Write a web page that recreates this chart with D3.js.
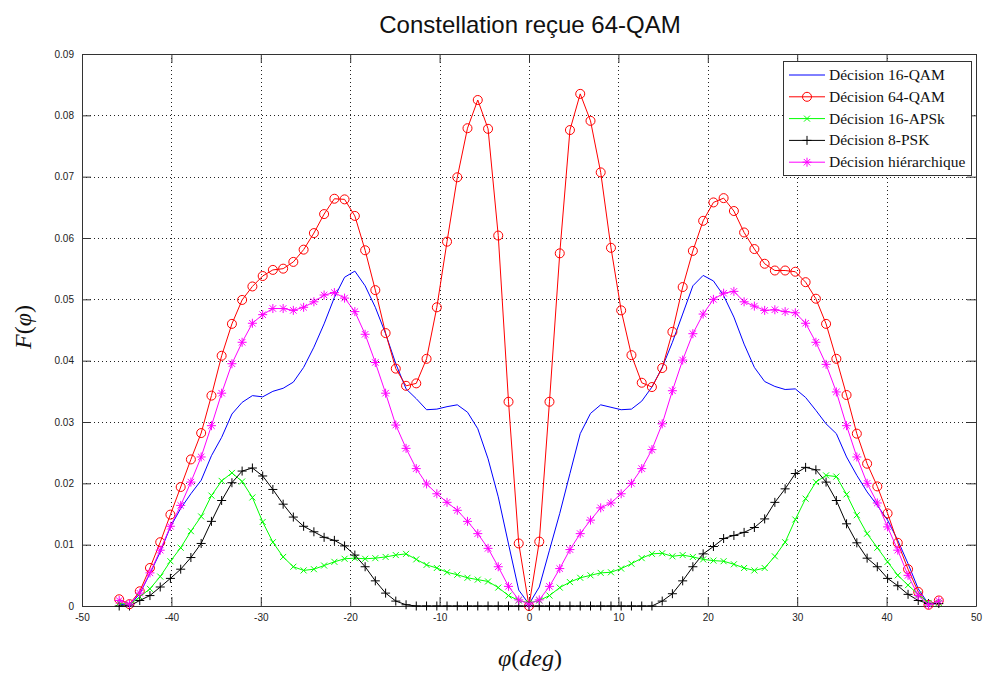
<!DOCTYPE html>
<html><head><meta charset="utf-8">
<script src="https://cdn.jsdelivr.net/npm/d3@7"></script>
<style>body{margin:0;background:#fff;} svg{display:block}</style>
</head><body><svg id="chart" width="984" height="674"></svg>
<script>
// sample angles (degrees)
const angles = [-45.84,-44.69,-43.54,-42.40,-41.25,-40.11,-38.96,-37.82,-36.67,-35.52,
 -34.38,-33.23,-32.09,-30.94,-29.79,-28.65,-27.50,-26.36,-25.21,-24.06,
 -22.92,-21.77,-20.63,-19.48,-18.33,-17.19,-16.04,-14.90,-13.75,-12.61,
 -11.46,-10.31,-9.17,-8.02,-6.88,-5.73,-4.58,-3.44,-2.29,-1.15,
 0,
 1.15,2.29,3.44,4.58,5.73,6.88,8.02,9.17,10.31,11.46,
 12.61,13.75,14.90,16.04,17.19,18.33,19.48,20.63,21.77,22.92,
 24.06,25.21,26.36,27.50,28.65,29.79,30.94,32.09,33.23,34.38,
 35.52,36.67,37.82,38.96,40.11,41.25,42.40,43.54,44.69,45.84];

const qam16 = [0.0003,0.0001,0.0020,0.0053,0.0088,0.0129,0.0159,0.0183,0.0205,0.0245,
 0.0275,0.0313,0.0332,0.0343,0.0341,0.0350,0.0355,0.0365,0.0389,0.0422,
 0.0460,0.0503,0.0536,0.0546,0.0522,0.0487,0.0444,0.0395,0.0354,0.0338,
 0.0320,0.0321,0.0325,0.0328,0.0316,0.0289,0.0240,0.0178,0.0101,0.0026,
 0.0003,
 0.0031,0.0091,0.0151,0.0216,0.0281,0.0314,0.0328,0.0324,0.0320,0.0321,
 0.0334,0.0357,0.0389,0.0430,0.0476,0.0522,0.0539,0.0530,0.0506,0.0471,
 0.0427,0.0389,0.0366,0.0358,0.0353,0.0354,0.0340,0.0319,0.0297,0.0281,
 0.0243,0.0213,0.0186,0.0164,0.0140,0.0107,0.0069,0.0028,0.0003,0.0004];

const qam64 = [0.0011,0.0003,0.0024,0.0062,0.0104,0.0149,0.0194,0.0239,0.0282,0.0343,
 0.0408,0.0460,0.0499,0.0521,0.0538,0.0548,0.0550,0.0561,0.0581,0.0608,
 0.0639,0.0664,0.0663,0.0636,0.0580,0.0515,0.0445,0.0387,0.0359,0.0363,
 0.0403,0.0487,0.0594,0.0699,0.0779,0.0825,0.0778,0.0604,0.0333,0.0102,
 0.0000,
 0.0105,0.0333,0.0575,0.0776,0.0835,0.0791,0.0707,0.0584,0.0482,0.0409,
 0.0364,0.0357,0.0388,0.0447,0.0520,0.0579,0.0628,0.0658,0.0665,0.0644,
 0.0609,0.0582,0.0558,0.0547,0.0547,0.0545,0.0528,0.0501,0.0460,0.0403,
 0.0344,0.0281,0.0232,0.0195,0.0151,0.0103,0.0060,0.0023,0.0002,0.0009];

const apsk16 = [0.0005,0.0002,0.0015,0.0028,0.0048,0.0073,0.0095,0.0122,0.0146,0.0180,
 0.0204,0.0217,0.0203,0.0177,0.0137,0.0104,0.0080,0.0064,0.0058,0.0060,
 0.0066,0.0072,0.0077,0.0078,0.0077,0.0078,0.0080,0.0083,0.0085,0.0076,
 0.0067,0.0062,0.0055,0.0051,0.0046,0.0043,0.0040,0.0030,0.0017,0.0009,
 0.0005,
 0.0009,0.0017,0.0030,0.0039,0.0046,0.0050,0.0054,0.0055,0.0061,0.0069,
 0.0078,0.0085,0.0086,0.0081,0.0083,0.0080,0.0076,0.0074,0.0073,0.0068,
 0.0062,0.0058,0.0062,0.0081,0.0104,0.0141,0.0175,0.0202,0.0213,0.0211,
 0.0182,0.0148,0.0118,0.0095,0.0072,0.0050,0.0034,0.0019,0.0005,0.0005];

const psk8 = [0.0000,0.0000,0.0009,0.0017,0.0031,0.0045,0.0060,0.0079,0.0102,0.0138,
 0.0172,0.0201,0.0220,0.0225,0.0212,0.0190,0.0166,0.0145,0.0130,0.0121,
 0.0112,0.0107,0.0098,0.0083,0.0064,0.0041,0.0021,0.0008,0.0002,0,
 0,0,0,0,0,0,0,0,0,0,
 0,
 0,0,0,0,0,0,0,0,0,0,
 0,0,0.0008,0.0020,0.0041,0.0064,0.0085,0.0097,0.0110,0.0115,
 0.0120,0.0128,0.0142,0.0169,0.0191,0.0216,0.0226,0.0222,0.0202,0.0172,
 0.0134,0.0103,0.0078,0.0064,0.0045,0.0033,0.0019,0.0009,0.0004,0.0004];

const hierarchical = [0.0009,0.0003,0.0021,0.0054,0.0091,0.0130,0.0164,0.0202,0.0243,0.0294,
 0.0347,0.0395,0.0430,0.0461,0.0475,0.0485,0.0485,0.0482,0.0487,0.0496,
 0.0507,0.0511,0.0502,0.0480,0.0443,0.0397,0.0347,0.0295,0.0257,0.0224,
 0.0199,0.0183,0.0169,0.0156,0.0138,0.0118,0.0094,0.0064,0.0032,0.0010,
 0.0003,
 0.0010,0.0032,0.0061,0.0092,0.0118,0.0140,0.0160,0.0168,0.0183,0.0200,
 0.0224,0.0255,0.0297,0.0351,0.0401,0.0444,0.0476,0.0500,0.0510,0.0513,
 0.0496,0.0489,0.0482,0.0483,0.0480,0.0478,0.0461,0.0430,0.0394,0.0349,
 0.0294,0.0243,0.0200,0.0168,0.0129,0.0091,0.0050,0.0017,0.0002,0.0008];

const seriesNames = ["Décision 16-QAM","Décision 64-QAM","Décision 16-APSk","Décision 8-PSK","Décision hiérarchique"];
const seriesValues = [qam16, qam64, apsk16, psk8, hierarchical];
const seriesColors = ["#0000ff","#ff0000","#00ff00","#000000","#ff00ff"];
const seriesMarkers = ["none","circle","x","plus","star"];
const xTicks = [-50,-40,-30,-20,-10,0,10,20,30,40,50];
const yTicks = [0,0.01,0.02,0.03,0.04,0.05,0.06,0.07,0.08,0.09];
const titleText = "Constellation reçue 64-QAM";

const L=82,R=976,T=54,B=606;
const svg = d3.select("#chart");
const x = d3.scaleLinear().domain([-50,50]).range([L,R]);
const y = d3.scaleLinear().domain([0,0.09]).range([B,T]);

svg.append("rect").attr("x",0).attr("y",0).attr("width",984).attr("height",674).attr("fill","#fff");

// grid
const grid = svg.append("g").attr("stroke","#222").attr("stroke-width",1).attr("stroke-dasharray","1,3");
grid.selectAll("line.gx").data(xTicks.slice(1,-1)).join("line")
  .attr("x1",d=>Math.round(x(d))+0.5).attr("x2",d=>Math.round(x(d))+0.5).attr("y1",T).attr("y2",B);
grid.selectAll("line.gy").data(yTicks.slice(1)).join("line")
  .attr("y1",d=>Math.round(y(d))+0.5).attr("y2",d=>Math.round(y(d))+0.5).attr("x1",L).attr("x2",R);

// axes
const fmtX = d=>String(d);
const fmtY = d=> d===0 ? "0" : d.toFixed(2);
function styleAxis(g){
  g.selectAll(".domain").attr("stroke","#333");
  g.selectAll(".tick line").attr("stroke","#333");
  g.selectAll("text").attr("font-family","'Liberation Sans', Arial, sans-serif").attr("font-size","10px").attr("fill","#222");
}
svg.append("g").attr("transform",`translate(0,${B})`)
  .call(d3.axisBottom(x).tickValues(xTicks).tickFormat(fmtX).tickSizeInner(-9).tickSizeOuter(0).tickPadding(8))
  .call(styleAxis);
svg.append("g").attr("transform",`translate(0,${T})`)
  .call(d3.axisTop(x).tickValues(xTicks).tickFormat("").tickSizeInner(-9).tickSizeOuter(0))
  .call(styleAxis);
svg.append("g").attr("transform",`translate(${L},0)`)
  .call(d3.axisLeft(y).tickValues(yTicks).tickFormat(fmtY).tickSizeInner(-9).tickSizeOuter(0).tickPadding(8))
  .call(styleAxis);
svg.append("g").attr("transform",`translate(${R},0)`)
  .call(d3.axisRight(y).tickValues(yTicks).tickFormat("").tickSizeInner(-9).tickSizeOuter(0))
  .call(styleAxis);

// markers
function markerPath(type, s){
  if(type==="x") return `M${-s},${-s}L${s},${s}M${-s},${s}L${s},${-s}`;
  if(type==="plus") return `M${-s},0H${s}M0,${-s}V${s}`;
  if(type==="star"){ const k=s*0.72; return `M${-s},0H${s}M0,${-s}V${s}M${-k},${-k}L${k},${k}M${-k},${k}L${k},${-k}`; }
  return "";
}
const markerSize = {x:3, plus:4.5, star:4.5, circle:4.5};

const line = d3.line().x((d,i)=>x(angles[i])).y(d=>y(d));
const plot = svg.append("g");
seriesValues.forEach((vals,si)=>{
  const col = seriesColors[si], mk = seriesMarkers[si];
  const g = plot.append("g");
  g.append("path").datum(vals).attr("d",line).attr("fill","none").attr("stroke",col).attr("stroke-width",1);
  if(mk==="circle"){
    g.selectAll("circle").data(vals).join("circle")
      .attr("cx",(d,i)=>x(angles[i])).attr("cy",d=>y(d)).attr("r",markerSize.circle)
      .attr("fill","none").attr("stroke",col).attr("stroke-width",1);
  } else if(mk!=="none"){
    g.selectAll("path.m").data(vals).join("path").attr("class","m")
      .attr("transform",(d,i)=>`translate(${x(angles[i])},${y(d)})`)
      .attr("d",markerPath(mk,markerSize[mk])).attr("fill","none").attr("stroke",col).attr("stroke-width",1);
  }
});

// legend
const lg = svg.append("g");
lg.append("rect").attr("x",783.5).attr("y",61.5).attr("width",188).attr("height",114)
  .attr("fill","#fff").attr("stroke","#333").attr("stroke-width",1);
seriesNames.forEach((name,si)=>{
  const cy = 75 + si*21.8, col=seriesColors[si], mk=seriesMarkers[si];
  lg.append("line").attr("x1",789).attr("x2",825).attr("y1",cy).attr("y2",cy).attr("stroke",col).attr("stroke-width",1);
  if(mk==="circle") lg.append("circle").attr("cx",807).attr("cy",cy).attr("r",4.5).attr("fill","none").attr("stroke",col);
  else if(mk!=="none") lg.append("path").attr("transform",`translate(807,${cy})`).attr("d",markerPath(mk,markerSize[mk])).attr("fill","none").attr("stroke",col);
  lg.append("text").attr("x",829).attr("y",cy+5).text(name)
    .attr("font-family","'Liberation Serif','Times New Roman',serif").attr("font-size","15.5px").attr("fill","#111");
});

// title
svg.append("text").attr("x",530).attr("y",33).attr("text-anchor","middle")
  .attr("font-family","'Liberation Sans', Arial, sans-serif").attr("font-size","24px").attr("fill","#111").text(titleText);

// axis labels
const yl = svg.append("text").attr("transform","translate(31,327) rotate(-90)").attr("text-anchor","middle")
  .attr("font-family","'Liberation Serif','Times New Roman',serif").attr("font-size","24px").attr("fill","#111");
yl.append("tspan").attr("font-style","italic").text("F");
yl.append("tspan").text("(");
yl.append("tspan").attr("font-style","italic").text("φ");
yl.append("tspan").text(")");

const xl = svg.append("text").attr("x",530).attr("y",666).attr("text-anchor","middle")
  .attr("font-family","'Liberation Serif','Times New Roman',serif").attr("font-size","24px").attr("fill","#111");
xl.append("tspan").attr("font-style","italic").text("φ");
xl.append("tspan").text("(");
xl.append("tspan").attr("font-style","italic").text("deg");
xl.append("tspan").text(")");
</script>
</body></html>
